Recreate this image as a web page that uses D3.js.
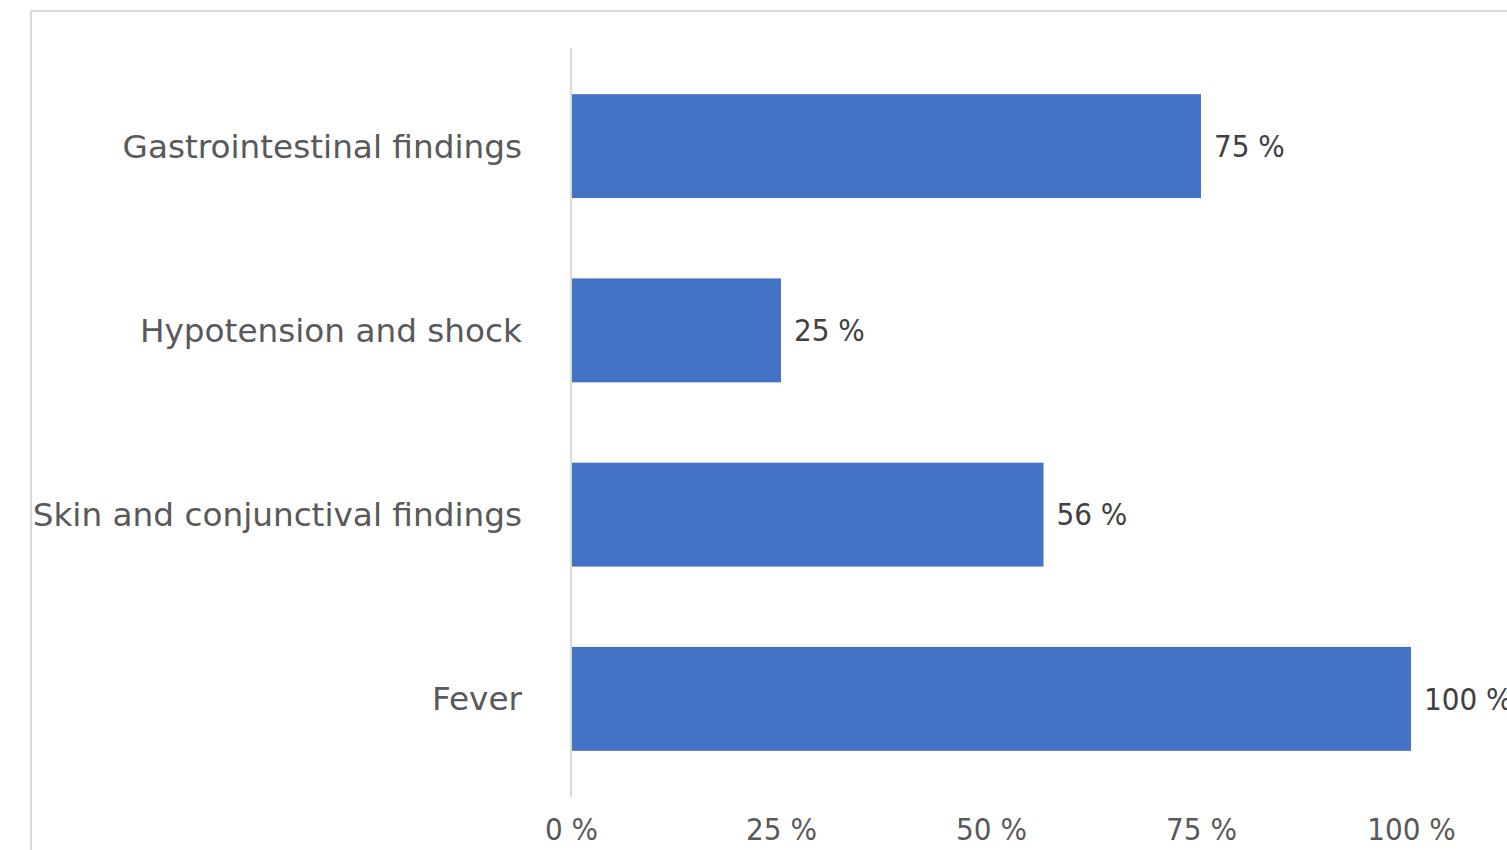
<!DOCTYPE html>
<html lang="en">

<head>
  <meta charset="UTF-8">
  <title>Symptoms</title>
  <script src="https://d3js.org/d3.v7.min.js"></script>
  <style>
    body {
      margin: 0;
      background: white;
    }

    text {
      font-family: "DejaVu Sans Condensed", "DejaVu Sans", sans-serif;
    }

    .cat {
      font-family: "DejaVu Sans", sans-serif;
    }

    .frame {
      fill: none;
      stroke: #d9d9d9;
      stroke-width: 2px;
    }
  </style>
</head>

<body>
  <div id="chart"></div>

  <script>
    const categories = ["Gastrointestinal findings", "Hypotension and shock", "Skin and conjunctival findings", "Fever"];
    const values = [75, 25, 56.25, 100];
    const tickValues = [0, 25, 50, 75, 100];

    const W = 1507, H = 850;

    const svg = d3.select("#chart")
      .append("svg")
      .attr("width", W)
      .attr("height", H);

    // outer chart frame (cut off at right and bottom)
    svg.append("rect")
      .attr("class", "frame")
      .attr("x", 31)
      .attr("y", 11)
      .attr("width", 1600)
      .attr("height", 900);

    const x = d3.scaleLinear()
      .domain([0, 100])
      .range([571, 1411]);

    const y = d3.scaleBand()
      .domain(categories)
      .range([54, 791])
      .paddingInner(0.436)
      .paddingOuter(0.218);

    // vertical axis line
    svg.append("line")
      .attr("x1", x(0))
      .attr("x2", x(0))
      .attr("y1", 48)
      .attr("y2", 797)
      .attr("stroke", "#d9d9d9")
      .attr("stroke-width", 2);

    // bars
    svg.selectAll(".bar")
      .data(values)
      .enter()
      .append("rect")
      .attr("class", "bar")
      .attr("x", x(0) + 1)
      .attr("y", (d, i) => y(categories[i]))
      .attr("width", d => x(d) - x(0) - 1)
      .attr("height", y.bandwidth())
      .attr("fill", "#4472c4");

    // value labels
    svg.selectAll(".val")
      .data(values)
      .enter()
      .append("text")
      .attr("class", "val")
      .attr("x", d => x(d) + 13)
      .attr("y", (d, i) => y(categories[i]) + y.bandwidth() / 2)
      .attr("dy", "0.35em")
      .attr("font-size", "31px")
      .attr("fill", "#404040")
      .text(d => `${Math.round(d)} %`);

    // category labels
    svg.selectAll(".cat")
      .data(categories)
      .enter()
      .append("text")
      .attr("class", "cat")
      .attr("x", 522)
      .attr("y", d => y(d) + y.bandwidth() / 2)
      .attr("dy", "0.35em")
      .attr("text-anchor", "end")
      .attr("font-size", "32.7px")
      .attr("fill", "#595959")
      .text(d => d);

    // x axis tick labels
    const xAxis = svg.append("g")
      .attr("transform", "translate(0,797)")
      .call(d3.axisBottom(x)
        .tickValues(tickValues)
        .tickSize(0)
        .tickPadding(21)
        .tickFormat(d => `${d} %`));
    xAxis.select(".domain").remove();
    xAxis.selectAll("text")
      .attr("font-size", "31px")
      .attr("fill", "#595959")
      .attr("font-family", "DejaVu Sans Condensed, DejaVu Sans, sans-serif");
  </script>
</body>

</html>
